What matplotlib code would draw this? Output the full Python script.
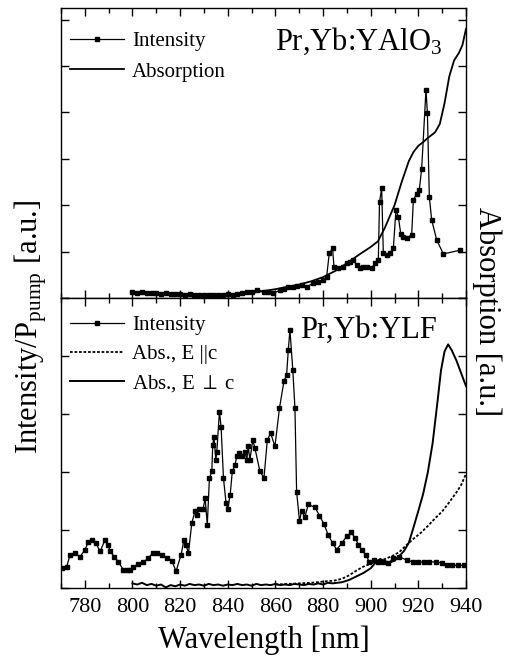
import numpy as np
import matplotlib
matplotlib.use('Agg')
import matplotlib.pyplot as plt
from matplotlib.ticker import MultipleLocator

plt.rcParams['font.family'] = ['Liberation Serif', 'DejaVu Serif']
plt.rcParams['mathtext.fontset'] = 'stix'

# ---- top panel: Pr,Yb:YAlO3 ----
yalo_int_wl = [800, 802, 804, 806, 808, 810, 812, 814, 816, 818, 820, 822, 824,
               826, 828, 830, 832, 834, 836, 838, 840, 842, 844, 846, 848, 850,
               852.2, 855.0, 857.0, 859.1, 861.9, 863.5, 865.4, 867.5, 869.0,
               871.0, 873.1, 875.9, 878.0, 880.1, 881.5, 882.6, 884.0, 884.6,
               886.4, 888.5, 889.9, 891.3, 892.7, 894.1, 895.5, 896.9, 898.3,
               900.4, 901.8, 903.2, 903.7, 904.6, 905.3, 906.7, 908.1, 909.5,
               910.6, 911.6, 912.6, 913.7, 915.1, 917.2, 917.9, 919.3, 920.4,
               921.4, 923.2, 923.8, 924.6, 925.6, 927.7, 930.5, 937.5]
yalo_int = [0.12, 0.11, 0.12, 0.10, 0.11, 0.10, 0.09, 0.10, 0.08, 0.09, 0.08, 0.07, 0.08,
            0.07, 0.06, 0.07, 0.06, 0.07, 0.06, 0.07, 0.08, 0.07, 0.09, 0.10, 0.12, 0.14,
            0.17, 0.14, 0.12, 0.10, 0.17, 0.20, 0.24, 0.24, 0.26,
            0.28, 0.24, 0.32, 0.35, 0.39, 0.46, 0.96, 1.07, 0.67,
            0.64, 0.67, 0.75, 0.78, 0.82, 0.71, 0.64, 0.67, 0.67,
            0.64, 0.75, 0.82, 2.07, 2.36, 0.96, 0.93, 0.96, 1.07,
            1.90, 1.75, 1.39, 1.31, 1.29, 1.36, 2.11, 2.25, 2.33,
            2.79, 4.49, 3.98, 2.18, 1.68, 1.25, 0.95, 1.03]

yalo_abs_wl = [800, 805, 810, 815, 820, 825, 830, 835, 840, 845, 850, 855, 860, 865,
               870, 875, 880, 885, 890, 895, 900, 903, 906, 910, 913, 916, 918, 920,
               922, 924, 927, 929, 931, 933, 935, 937, 938.5, 940]
yalo_abs = [0.11, 0.10, 0.09, 0.08, 0.07, 0.06, 0.05, 0.06, 0.07, 0.08, 0.11, 0.15, 0.19, 0.24,
            0.29, 0.36, 0.45, 0.58, 0.75, 0.93, 1.10, 1.22, 1.52, 2.00, 2.50, 2.95, 3.15, 3.28,
            3.36, 3.45, 3.57, 3.75, 4.20, 4.78, 5.12, 5.28, 5.45, 5.80]

# ---- bottom panel: Pr,Yb:YLF ----
ylf_int_wl = [770.3, 772.4, 773.8, 775.9, 778.0, 780.1, 781.5, 782.9, 784.7, 786.4,
              788.5, 789.9, 790.6, 792.4, 794.1, 796.2, 797.6, 799.0, 800.4, 802.5,
              804.6, 806.7, 808.5, 810.2, 812.3, 814.4, 816.5, 818.3, 820.4, 821.6,
              822.5, 823.5, 824.9, 826.3, 827.0, 828.1, 829.7, 830.5, 831.4, 832.3,
              833.3, 833.7, 834.2, 835.0, 835.4, 836.5, 837.2, 838.2, 839.3, 840.0,
              841.0, 841.9, 843.0, 843.8, 844.9, 845.9, 847.2, 848.0, 848.6, 849.3,
              850.5, 851.4, 853.5, 855.2, 856.6, 858.0, 859.8, 861.7, 863.6, 864.7,
              865.4, 866.1, 867.3, 868.2, 868.9, 870.1, 871.0, 872.4, 873.8, 876.6,
              878.5, 880.4, 882.2, 884.1, 885.7, 887.8, 889.9, 891.7, 893.4, 894.8,
              896.2, 898.0, 899.4, 901.4, 903.2, 905.3, 907.4, 909.5, 912.0, 915.1,
              917.6, 920.0, 922.4, 924.6, 927.4, 929.8, 931.9, 934.0, 936.8, 939.2]
ylf_int = [0.34, 0.37, 0.57, 0.60, 0.54, 0.66, 0.80, 0.83, 0.77, 0.63,
           0.83, 0.74, 0.63, 0.54, 0.45, 0.31, 0.31, 0.31, 0.37, 0.41,
           0.45, 0.51, 0.61, 0.60, 0.57, 0.51, 0.47, 0.29, 0.57, 0.83,
           0.74, 0.60, 1.12, 1.33, 1.26, 1.37, 1.37, 1.55, 1.09, 1.89,
           2.01, 2.47, 2.61, 2.21, 2.35, 3.04, 2.78, 1.89, 1.46, 1.37,
           1.60, 2.01, 2.12, 2.27, 2.32, 2.27, 2.35, 2.21, 2.44, 2.21,
           2.55, 2.41, 2.01, 1.90, 2.55, 2.67, 2.44, 3.10, 3.57, 3.67,
           4.10, 4.45, 3.76, 3.10, 1.66, 1.16, 1.32, 1.23, 1.44, 1.39,
           1.25, 1.10, 0.91, 0.77, 0.66, 0.77, 0.89, 0.96, 0.87, 0.75,
           0.66, 0.57, 0.45, 0.48, 0.45, 0.45, 0.43, 0.51, 0.54, 0.48,
           0.45, 0.45, 0.45, 0.45, 0.45, 0.43, 0.39, 0.39, 0.39, 0.39]

ylf_perp_wl = [800, 802, 804, 806, 808, 810, 812, 814, 816, 818, 820, 822, 824, 826,
               828, 830, 832, 834, 836, 838, 840, 842, 844, 846, 848, 850, 852, 854,
               856, 858, 860, 862, 864, 866, 868, 870, 872, 874, 876, 878, 880, 882,
               884, 888, 891, 894, 897, 900, 902.5, 904, 906, 908, 910, 912, 914,
               916, 918, 920, 922, 924, 926, 928, 929.5, 931, 932.5, 934, 936, 938, 940]
ylf_perp = [0.08, 0.06, 0.09, 0.05, 0.07, 0.04, 0.06, 0.01, 0.05, 0.03, 0.06, 0.04, 0.07, 0.05,
            0.06, 0.04, 0.07, 0.05, 0.06, 0.04, 0.06, 0.05, 0.07, 0.05, 0.06, 0.04, 0.07, 0.05,
            0.06, 0.05, 0.07, 0.05, 0.06, 0.05, 0.07, 0.06, 0.05, 0.07, 0.06, 0.08, 0.06, 0.09,
            0.08, 0.10, 0.14, 0.20, 0.26, 0.34, 0.46, 0.50, 0.46, 0.44, 0.47, 0.55, 0.64,
            0.78, 1.05, 1.33, 1.62, 2.00, 2.50, 3.20, 3.75, 4.08, 4.20, 4.10, 3.92, 3.70, 3.48]

ylf_par_wl = [860, 865, 870, 875, 880, 885, 888, 891, 894, 897, 900, 903, 906, 909,
              912, 915, 918, 921, 924, 927, 930, 933, 936, 938, 940]
ylf_par = [0.06, 0.07, 0.08, 0.09, 0.11, 0.13, 0.16, 0.22, 0.30, 0.37, 0.42, 0.46, 0.50, 0.55,
           0.62, 0.74, 0.85, 0.95, 1.07, 1.20, 1.32, 1.48, 1.65, 1.78, 1.97]


def style_axis(ax, ymax):
    ax.set_xlim(770, 940)
    ax.set_ylim(0, ymax)
    ax.xaxis.set_major_locator(MultipleLocator(20))
    ax.xaxis.set_minor_locator(MultipleLocator(10))
    ax.yaxis.set_major_locator(MultipleLocator(1))
    ax.tick_params(which='both', direction='in', top=True, right=True, width=1)
    ax.tick_params(which='major', length=6)
    ax.tick_params(which='minor', length=3.5)
    ax.tick_params(axis='y', labelleft=False)
    for s in ax.spines.values():
        s.set_linewidth(1.0)


fig = plt.figure(figsize=(5.09, 6.60), dpi=100)
ax1 = fig.add_axes([61 / 509, 1 - 298 / 660, 405 / 509, 290 / 660])
ax2 = fig.add_axes([61 / 509, 1 - 588 / 660, 405 / 509, 290 / 660])

# top panel
ax1.plot(yalo_int_wl, yalo_int, color='black', lw=0.9, marker='s', ms=3.2,
         label='Intensity')
ax1.plot(yalo_abs_wl, yalo_abs, color='black', lw=1.3, label='Absorption')
style_axis(ax1, 6.25)
ax1.tick_params(axis='x', labelbottom=False)
ax1.legend(loc='upper left', bbox_to_anchor=(0, 0.952), frameon=False, fontsize=15,
           handlelength=2.55, handletextpad=0.4, labelspacing=0.54,
           borderaxespad=0.25, borderpad=0.2)
ax1.text(0.528, 0.855, 'Pr,Yb:YAlO$_\\mathregular{3}$', transform=ax1.transAxes,
         fontsize=22, va='baseline', ha='left')

# bottom panel
ax2.plot(ylf_int_wl, ylf_int, color='black', lw=0.9, marker='s', ms=3.2,
         label='Intensity')
ax2.plot(ylf_par_wl, ylf_par, color='black', lw=1.3, linestyle=(0, (1.5, 1.0)),
         label='Abs., E ||c')
ax2.plot(ylf_perp_wl, ylf_perp, color='black', lw=1.4, label='Abs., E $\\perp$ c')
style_axis(ax2, 5.0)
ax2.tick_params(axis='x', labelsize=16, pad=7)
ax2.legend(loc='upper left', bbox_to_anchor=(0, 0.972), frameon=False, fontsize=15,
           handlelength=2.55, handletextpad=0.4, labelspacing=0.44,
           borderaxespad=0.25, borderpad=0.2)
ax2.text(0.59, 0.862, 'Pr,Yb:YLF', transform=ax2.transAxes,
         fontsize=22, va='baseline', ha='left')
ax2.set_xlabel('Wavelength [nm]', fontsize=22, labelpad=6)

fig.text(31 / 509, 1 - 327 / 660, 'Intensity/P$_\\mathregular{pump}$ [a.u.]',
         rotation=90, fontsize=22, ha='center', va='center')
fig.text(487 / 509, 1 - 312 / 660, 'Absorption [a.u.]', rotation=270,
         fontsize=22, ha='center', va='center')

fig.savefig('out.png', dpi=100)
